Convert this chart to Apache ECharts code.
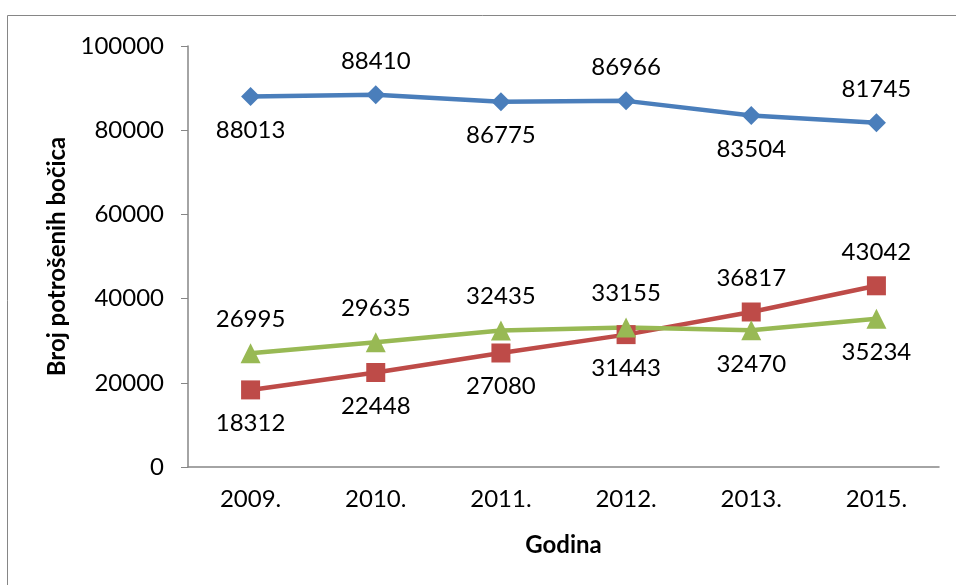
<!DOCTYPE html>
<html><head><meta charset="utf-8">
<script src="https://cdn.jsdelivr.net/npm/echarts@6/dist/echarts.min.js"></script>
<style>html,body{margin:0;padding:0;background:#fff}#c{width:956px;height:585px}</style>
</head><body><div id="c"></div>
<script>
const categories = ['2009.', '2010.', '2011.', '2012.', '2013.', '2015.'];
const blueValues = [88013, 88410, 86775, 86966, 83504, 81745];
const redValues = [18312, 22448, 27080, 31443, 36817, 43042];
const greenValues = [26995, 29635, 32435, 33155, 32470, 35234];
const bluePos = ['bottom', 'top', 'bottom', 'top', 'bottom', 'top'];
const redPos = ['bottom', 'bottom', 'bottom', 'bottom', 'top', 'top'];
const greenPos = ['top', 'top', 'top', 'top', 'bottom', 'bottom'];
const yTicks = [0, 20000, 40000, 60000, 80000, 100000];

const FONT = 'Lato';
const axisColor = '#868686';

function mk(values, pos) {
  return values.map((v, i) => ({ value: v, label: { position: pos[i] } }));
}
function series(values, pos, color, symbol, size) {
  return {
    type: 'line',
    data: mk(values, pos),
    symbol: symbol,
    symbolSize: size,
    lineStyle: { color: color, width: 4.5 },
    itemStyle: { color: color },
    label: { show: true, distance: 12, fontFamily: FONT, fontSize: 24, color: '#000' },
    emphasis: { disabled: true },
    animation: false
  };
}

const chart = echarts.init(document.getElementById('c'));
chart.setOption({
  animation: false,
  grid: { left: 188, right: 17, top: 46, bottom: 118, containLabel: false },
  graphic: [{
    type: 'rect', shape: { x: 7.5, y: 15.5, width: 1000, height: 1000 },
    style: { fill: 'none', stroke: axisColor, lineWidth: 1 }, silent: true, z: -1
  }],
  xAxis: {
    type: 'category', data: categories, boundaryGap: true,
    axisLine: { lineStyle: { color: axisColor, width: 1.5 } },
    axisTick: { show: false },
    axisLabel: { fontFamily: FONT, fontSize: 24, color: '#000', margin: 20 },
    name: 'Godina', nameLocation: 'middle', nameGap: 66,
    nameTextStyle: { fontFamily: FONT, fontSize: 24, fontWeight: 'bold', color: '#000' }
  },
  yAxis: {
    type: 'value', min: 0, max: 100000, interval: 20000,
    splitLine: { show: false },
    axisLine: { show: true, lineStyle: { color: axisColor, width: 1.5 } },
    axisTick: { show: true, length: 7, inside: false, lineStyle: { color: axisColor } },
    axisLabel: { fontFamily: FONT, fontSize: 24, color: '#000', margin: 24,
      formatter: v => yTicks.includes(v) ? String(v) : '' },
    name: 'Broj potrošenih bočica', nameLocation: 'middle', nameGap: 108,
    nameTextStyle: { fontFamily: FONT, fontSize: 24, fontWeight: 'bold', color: '#000' }
  },
  series: [
    series(blueValues, bluePos, '#4a7ebb', 'diamond', 19),
    series(redValues, redPos, '#be4b48', 'rect', 19),
    series(greenValues, greenPos, '#98b954', 'triangle', 20)
  ]
});
</script></body></html>
